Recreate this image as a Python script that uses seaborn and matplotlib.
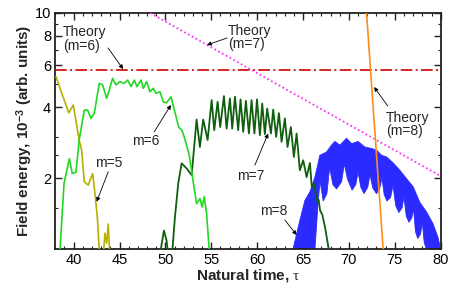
import numpy as np
import pandas as pd
import matplotlib
matplotlib.use("Agg")
import matplotlib.pyplot as plt
import seaborn as sns
from matplotlib.ticker import FixedLocator, NullFormatter

sns.set_theme(style="ticks")
plt.rcParams['font.family'] = ['Liberation Sans', 'DejaVu Sans']
plt.rcParams['mathtext.fontset'] = 'custom'
plt.rcParams['mathtext.rm'] = 'Liberation Serif'
plt.rcParams['mathtext.it'] = 'Liberation Serif:italic'
plt.rcParams['mathtext.bf'] = 'Liberation Sans:bold'

# ---------------- data ----------------
m5_x = [38.08, 39.46, 39.96, 40.6, 40.87, 41.16, 41.6, 42.07, 42.32, 42.58, 42.79, 42.9]
m5_y = [5.37, 3.78, 4.08, 2.9, 2.63, 1.93, 1.87, 2.09, 1.72, 1.37, 1.0, 0.9]
m5b_x = [43.2, 43.41, 43.6, 43.77, 43.96]
m5b_y = [0.9, 1.17, 1.06, 1.28, 0.9]

m6_x = [38.45, 38.95, 39.53, 39.85, 40.25, 40.5, 40.6, 41.16, 41.53, 41.89, 42.25, 42.79,
        43.16, 43.6, 44.25, 44.61, 45.05, 45.52, 45.88, 46.25, 46.61, 46.9, 47.34, 47.59,
        47.96, 48.32, 48.68, 48.97, 49.41, 49.77, 50.13, 50.6, 51.07, 51.44, 51.8, 52.05,
        52.6, 53.03, 53.4, 53.76, 54.0, 54.23, 54.49, 54.85]
m6_y = [0.9, 1.9, 2.42, 2.09, 2.12, 2.63, 2.9, 3.88, 3.88, 3.58, 3.76, 5.04,
        4.96, 4.35, 5.29, 4.96, 5.12, 5.04, 5.2, 4.88, 5.2, 4.88, 5.2, 4.8,
        5.12, 4.64, 4.8, 4.57, 4.64, 4.2, 4.17, 4.42, 3.76, 3.29, 3.19, 2.99,
        2.5, 1.93, 1.56, 1.64, 1.51, 1.67, 1.42, 0.9]

m7_x = [49.3, 49.84, 50.13, 50.35, 50.68, 51.04, 51.4, 51.77, 52.31, 52.86, 53.40, 53.76,
        54.12, 54.60, 55.04, 55.32, 55.69, 55.97, 56.38, 56.67, 57.03, 57.28, 57.58, 57.93,
        58.19, 58.48, 58.77, 59.10, 59.39, 59.70, 59.98, 60.30, 60.55, 60.84, 61.09, 61.50,
        61.75, 62.07, 62.37, 62.66, 63.02, 63.31, 63.67, 64.00, 64.30, 64.65, 65.02, 65.39,
        65.75, 65.95, 66.2, 66.5, 66.7, 66.86, 67.1, 67.4, 67.57, 68.0]
m7_y = [0.9, 1.2, 1.09, 0.9, 0.9, 1.37, 1.90, 2.31, 2.20, 2.06, 3.54, 2.71,
        3.54, 2.90, 4.28, 3.19, 4.21, 3.29, 4.45, 3.24, 4.35, 3.24, 4.42, 3.19,
        4.31, 3.14, 4.25, 3.09, 4.28, 3.09, 4.31, 3.04, 4.14, 3.07, 3.94, 3.09,
        3.90, 2.99, 3.77, 2.85, 3.58, 2.71, 3.29, 2.46, 3.09, 2.16, 2.38, 2.02,
        2.32, 1.84, 1.9, 1.61, 1.62, 1.46, 1.4, 1.24, 1.13, 0.9]

m8_upper_x = [63.9, 64.66, 65.2, 65.75, 66.29, 66.65, 66.83, 67.56, 68.1, 68.47, 69.01, 69.74,
              70.29, 71.0, 71.74, 72.47, 73.0, 73.56, 74.1, 74.82, 75.55, 76.28, 77.0, 77.73,
              78.46, 79.18, 79.72, 80.0]
m8_upper_y = [1.0, 1.33, 1.61, 1.75, 2.02, 2.32, 2.5, 2.58, 2.76, 2.86, 2.76, 2.95,
              2.8, 2.86, 2.71, 2.67, 2.63, 2.5, 2.46, 2.32, 2.16, 1.99, 1.84, 1.58,
              1.44, 1.28, 1.12, 1.0]
m8_lower_x = [63.9, 66.3, 66.6, 66.85, 67.2,
              67.6, 67.9, 68.25, 68.65,
              69.2, 69.5, 69.85, 70.35,
              70.75, 71.0, 71.3, 71.65,
              72.05, 72.3, 72.6, 73.0,
              73.35, 73.6, 73.85, 74.15,
              74.55, 74.8, 75.1, 75.45,
              75.8, 76.0, 76.25, 76.55,
              76.85, 77.05, 77.25, 77.5,
              77.8, 78.0, 78.2, 78.45, 80.0]
m8_lower_y = [1.0, 1.0, 1.5, 1.95, 1.6,
              1.72, 2.22, 1.88, 1.8,
              1.93, 2.3, 1.98, 1.78,
              1.88, 2.12, 1.83, 1.72,
              1.83, 2.07, 1.82, 1.72,
              1.8, 2.0, 1.7, 1.6,
              1.66, 1.87, 1.53, 1.43,
              1.5, 1.67, 1.38, 1.3,
              1.36, 1.48, 1.19, 1.11,
              1.16, 1.3, 1.07, 1.0, 1.0]

th6_x = [38.0, 80.0]
th6_y = [5.74, 5.74]
th7_x = [48.34, 80.0]
th7_y = [10.0, 2.04]
th8_x = [71.92, 73.73]
th8_y = [10.0, 1.0]

# ---------------- figure ----------------
fig = plt.figure(figsize=(4.6, 2.88), dpi=100)
ax = fig.add_axes([0.1202, 0.1344, 0.8378, 0.8205])
ax.set_yscale('log')

# m=8 band (fast oscillation envelope)
poly_x = np.concatenate([m8_upper_x, m8_lower_x[::-1]])
poly_y = np.concatenate([m8_upper_y, m8_lower_y[::-1]])
ax.fill(poly_x, poly_y, color='#2b2bff', lw=0.6, zorder=2)

def line(x, y, color, lw=1.2, z=3, **kw):
    sns.lineplot(x=x, y=y, color=color, sort=False, estimator=None, lw=lw,
                 ax=ax, zorder=z, **kw)

line(m5_x, m5_y, '#b8b000')
line(m5b_x, m5b_y, '#b8b000')
line(m7_x, m7_y, '#0f5f0f', lw=1.3)
line(m6_x, m6_y, '#22d822')
line(th6_x, th6_y, '#d00000', lw=1.2, z=4, dashes=False)
ax.lines[-1].set_dashes((7, 2, 1.2, 2))
line(th7_x, th7_y, '#ff33ff', lw=1.3, z=4)
ax.lines[-1].set_linestyle((0, (1, 1.4)))
line(th8_x, th8_y, '#ff8c1a', lw=1.2, z=4)

ax.set_xlim(38, 80)
ax.set_ylim(1, 10)

ax.set_xticks(np.arange(40, 81, 5))
ax.set_xticklabels([str(v) for v in range(40, 81, 5)])
ax.xaxis.set_minor_locator(FixedLocator(np.arange(38, 81, 1)))
ax.set_yticks([2, 4, 6, 8, 10])
ax.set_yticklabels(['2', '4', '6', '8', '10'])
ax.yaxis.set_minor_locator(FixedLocator([1.5, 2.5, 3, 5, 7, 9]))
ax.yaxis.set_minor_formatter(NullFormatter())
ax.tick_params(which='both', direction='in', top=True, right=True, colors='#222222',
               labelcolor='black', labelsize=10.5)
ax.tick_params(which='major', length=5, width=1.0)
ax.tick_params(which='minor', length=2.5, width=0.8)
ax.tick_params(axis='x', pad=2.5)
ax.tick_params(axis='y', pad=3)
for s in ax.spines.values():
    s.set_linewidth(1.3)
    s.set_color('#222222')

ax.set_xlabel(r'Natural time, $\mathrm{\tau}$', fontsize=11, fontweight='bold', labelpad=0)
ax.set_ylabel(r'Field energy, 10$^{\mathbf{-3}}$ (arb. units)', fontsize=11,
              fontweight='bold', labelpad=-0.5)

# annotations
def label(x, y, s):
    ax.text(x, y, s, ha='left', va='center', fontsize=10, linespacing=0.95, zorder=6)

def arrow(x0, y0, x1, y1):
    ax.annotate('', xy=(x1, y1), xytext=(x0, y0),
                arrowprops=dict(arrowstyle='-|>', color='black', lw=0.6,
                                mutation_scale=6, shrinkA=0, shrinkB=0), zorder=6)

label(38.84, 7.76, 'Theory\n(m=6)')
arrow(43.75, 7.11, 45.39, 5.79)
label(56.83, 7.87, 'Theory\n(m=7)')
arrow(56.72, 7.84, 54.54, 7.32)
label(74.02, 3.37, 'Theory\n(m=8)')
arrow(74.23, 4.04, 72.75, 4.86)
label(42.33, 2.31, 'm=5')
arrow(43.77, 2.13, 42.51, 1.59)
label(46.35, 2.87, 'm=6')
arrow(48.78, 3.14, 50.6, 4.08)
label(57.79, 2.04, 'm=7')
arrow(59.75, 2.27, 61.2, 3.09)
label(60.3, 1.45, 'm=8')
arrow(63.02, 1.33, 64.3, 1.15)

fig.savefig('out.png', dpi=100)
